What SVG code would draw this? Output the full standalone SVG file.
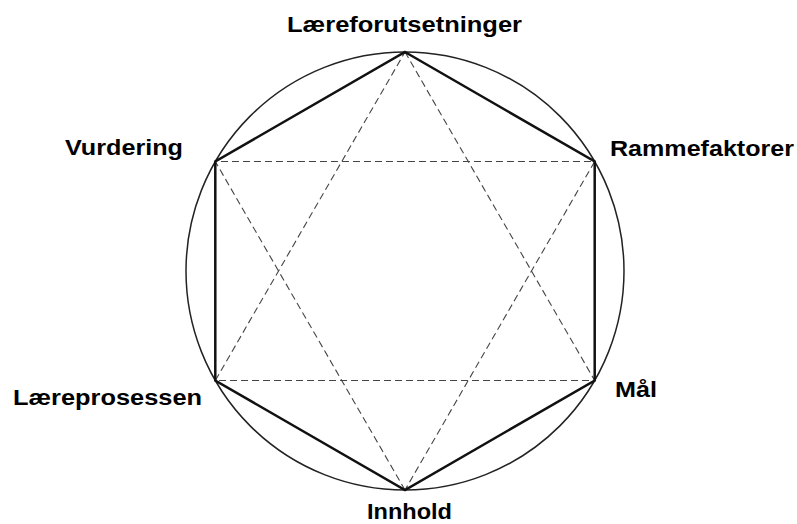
<svg xmlns="http://www.w3.org/2000/svg" width="797" height="524" viewBox="0 0 797 524">
<style>
.lbl{font-family:"Liberation Sans",Arial,sans-serif;font-weight:bold;font-size:22px;fill:#000}
.hex{fill:none;stroke:#111;stroke-width:2.5;stroke-linejoin:miter}
.dash{fill:none;stroke:#444;stroke-width:1.1;stroke-dasharray:7,4}
.circ{fill:none;stroke:#222;stroke-width:1.5}
</style>
<rect width="797" height="524" fill="#fff"/>
<g id="connectors">
<circle class="circ" cx="405" cy="271" r="219"/>
<polygon class="dash" points="405,52 594.7,380.5 215.3,380.5"/>
<polygon class="dash" points="405,490 215.3,161.5 594.7,161.5"/>
<polygon class="hex" points="405,52 594.7,161.5 594.7,380.5 405,490 215.3,380.5 215.3,161.5"/>
</g>
<g id="laereforutsetninger"><text class="lbl" x="287" y="31.5" textLength="235" lengthAdjust="spacingAndGlyphs">Læreforutsetninger</text></g>
<g id="rammefaktorer"><text class="lbl" x="610" y="156" textLength="184" lengthAdjust="spacingAndGlyphs">Rammefaktorer</text></g>
<g id="vurdering"><text class="lbl" x="65" y="155" textLength="118" lengthAdjust="spacingAndGlyphs">Vurdering</text></g>
<g id="laereprosessen"><text class="lbl" x="13" y="405" textLength="189" lengthAdjust="spacingAndGlyphs">Læreprosessen</text></g>
<g id="maal"><text class="lbl" x="615" y="396.5" textLength="42" lengthAdjust="spacingAndGlyphs">Mål</text></g>
<g id="innhold"><text class="lbl" x="367" y="518.5" font-size="21" textLength="85" lengthAdjust="spacingAndGlyphs">Innhold</text></g>
</svg>
